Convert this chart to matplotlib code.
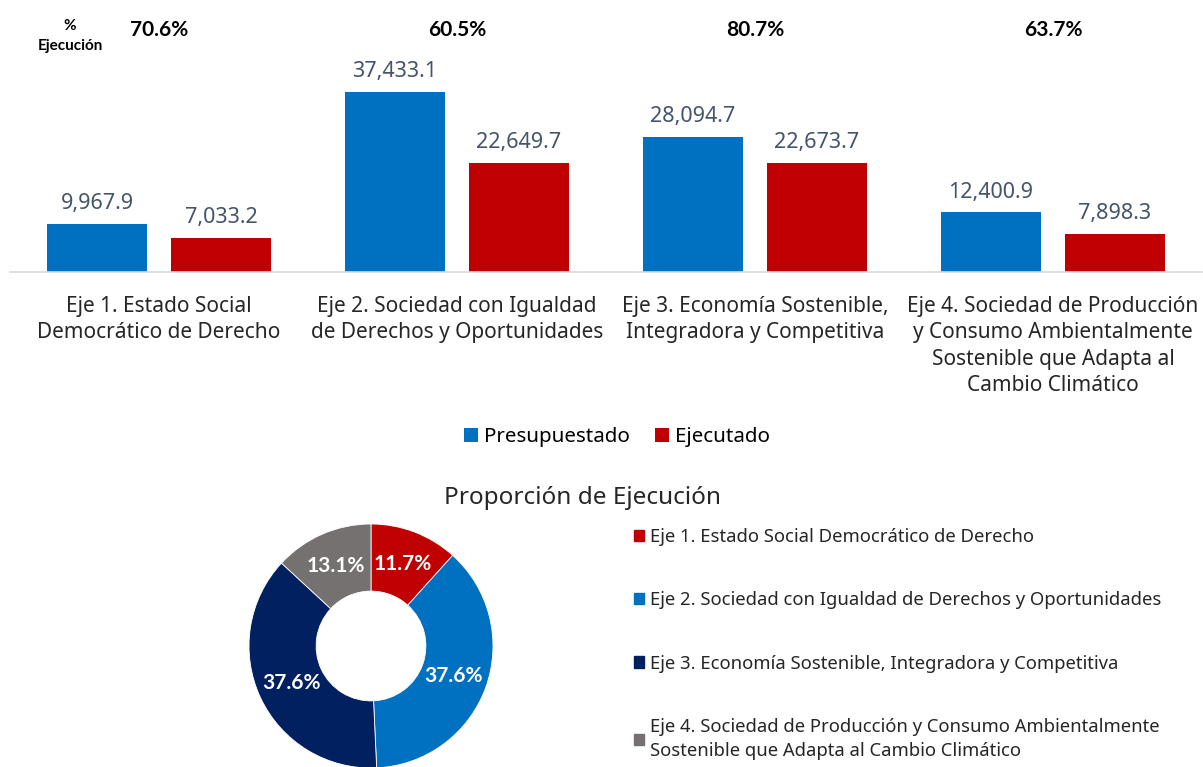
import matplotlib.pyplot as plt
from matplotlib.patches import Patch

plt.rcParams['font.family'] = ['Noto Sans', 'DejaVu Sans']
BOLD = ['Lato', 'DejaVu Sans']

ejes = ["Eje 1. Estado Social\nDemocrático de Derecho",
        "Eje 2. Sociedad con Igualdad\nde Derechos y Oportunidades",
        "Eje 3. Economía Sostenible,\nIntegradora y Competitiva",
        "Eje 4. Sociedad de Producción\ny Consumo Ambientalmente\nSostenible que Adapta al\nCambio Climático"]
presupuestado = [9967.9, 37433.1, 28094.7, 12400.9]
ejecutado = [7033.2, 22649.7, 22673.7, 7898.3]
pct_ejecucion = ["70.6%", "60.5%", "80.7%", "63.7%"]

pie_labels = ["Eje 1. Estado Social Democrático de Derecho",
              "Eje 2. Sociedad con Igualdad de Derechos y Oportunidades",
              "Eje 3. Economía Sostenible, Integradora y Competitiva",
              "Eje 4. Sociedad de Producción y Consumo Ambientalmente\nSostenible que Adapta al Cambio Climático"]
pie_colors = ['#C00000', '#0070C0', '#002060', '#767171']

W, H = 1203, 767
fig = plt.figure(figsize=(W / 100, H / 100), dpi=100)

# bar chart
ax = fig.add_axes([10 / W, 1 - 272 / H, 1192 / W, 232 / H])
x = list(range(len(ejes)))
w = 0.335
off = 0.208
b1 = ax.bar([i - off for i in x], presupuestado, w, color='#0070C0', label='Presupuestado')
b2 = ax.bar([i + off for i in x], ejecutado, w, color='#C00000', label='Ejecutado')
for b in (b1, b2):
    ax.bar_label(b, labels=[f'{v:,.1f}' for v in b.datavalues], padding=7,
                 fontsize=15.5, color='#44546A')
ax.set_xlim(-0.5, 3.5)
ax.set_ylim(0, 48200)
ax.set_yticks([])
ax.set_xticks(x)
ax.set_xticklabels(ejes, fontsize=15, color='#262626', linespacing=1.35)
ax.tick_params(axis='x', length=0, pad=17)
for s in ['top', 'right', 'left']:
    ax.spines[s].set_visible(False)
ax.spines['bottom'].set_color('#D9D9D9')
ax.spines['bottom'].set_linewidth(1.2)

for i, p in enumerate(pct_ejecucion):
    ax.annotate(p, (i, 1 - 30 / H), xycoords=('data', 'figure fraction'),
                ha='center', va='center', fontsize=15, fontweight='bold',
                family=BOLD, color='black')
fig.text(70 / W, 1 - 36 / H, "%\nEjecución", ha='center', va='center',
         fontsize=11, fontweight='bold', family=BOLD, linespacing=1.5)

fig.legend(handles=[b1, b2], loc='center', bbox_to_anchor=(617 / W, 1 - 437 / H), ncol=2,
           frameon=False, fontsize=14.8, handlelength=0.7, handleheight=0.7,
           handletextpad=0.3, columnspacing=1.2)

# donut
ax2 = fig.add_axes([249 / W, -1 / H, 244 / W, 244 / H])
ax2.pie(ejecutado, colors=pie_colors, startangle=90, counterclock=False, radius=1,
        wedgeprops=dict(width=0.55, edgecolor='white', linewidth=0.6),
        autopct='%.1f%%', pctdistance=0.72,
        textprops=dict(color='white', fontsize=15, fontweight='bold', family=BOLD))
ax2.set_xlim(-1, 1)
ax2.set_ylim(-1, 1)

fig.text(583 / W, 1 - 498 / H, "Proporción de Ejecución", ha='center', va='center',
         fontsize=17.5, color='#262626')
handles = [Patch(color=c) for c in pie_colors]
leg = fig.legend(handles, pie_labels, loc='upper left', bbox_to_anchor=(634 / W, 1 - 528 / H),
                 borderaxespad=0, borderpad=0, frameon=False, fontsize=13.3,
                 handlelength=0.55, handleheight=0.55, handletextpad=0.3, labelspacing=2.45)
for t in leg.get_texts():
    t.set_color('#262626')
    t.set_linespacing(1.45)

fig.savefig('out.png', dpi=100)
